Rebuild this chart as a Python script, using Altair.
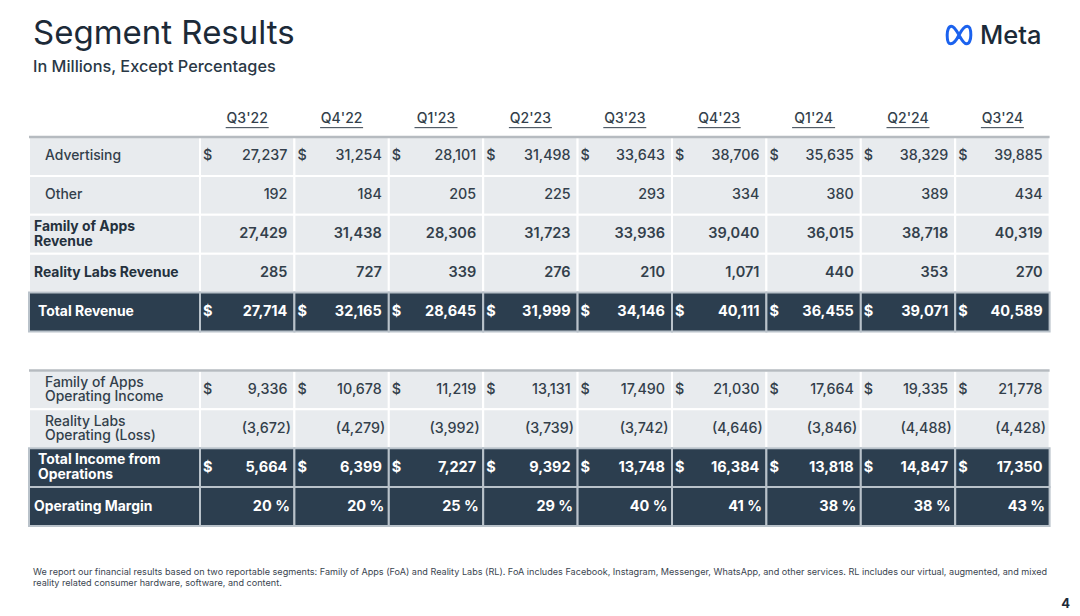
import altair as alt
import pandas as pd

# ---------------- data ----------------
quarters = ["Q3'22", "Q4'22", "Q1'23", "Q2'23", "Q3'23", "Q4'23", "Q1'24", "Q2'24", "Q3'24"]

advertising = [27237, 31254, 28101, 31498, 33643, 38706, 35635, 38329, 39885]
other = [192, 184, 205, 225, 293, 334, 380, 389, 434]
foa_revenue = [27429, 31438, 28306, 31723, 33936, 39040, 36015, 38718, 40319]
rl_revenue = [285, 727, 339, 276, 210, 1071, 440, 353, 270]
total_revenue = [27714, 32165, 28645, 31999, 34146, 40111, 36455, 39071, 40589]
foa_op_income = [9336, 10678, 11219, 13131, 17490, 21030, 17664, 19335, 21778]
rl_op_loss = [-3672, -4279, -3992, -3739, -3742, -4646, -3846, -4488, -4428]
total_income_ops = [5664, 6399, 7227, 9392, 13748, 16384, 13818, 14847, 17350]
operating_margin = [20, 20, 25, 29, 40, 41, 38, 38, 43]

row_labels = [
    "Advertising", "Other", "Family of Apps\nRevenue", "Reality Labs Revenue", "Total Revenue",
    "Family of Apps\nOperating Income", "Reality Labs\nOperating (Loss)",
    "Total Income from\nOperations", "Operating Margin",
]
row_values = [advertising, other, foa_revenue, rl_revenue, total_revenue,
              foa_op_income, rl_op_loss, total_income_ops, operating_margin]
row_style = ["sub", "sub", "bold", "bold", "total", "sub", "sub", "total", "total"]
row_dollar = [True, False, False, False, True, True, False, True, False]
row_kind = ["num"] * 8 + ["pct"]
row_slot = [0, 1, 2, 3, 4, 6, 7, 8, 9]   # grid row (5 = gap between the two tables)

title = "Segment Results"
subtitle = "In Millions, Except Percentages"
footnote = [
    "We report our financial results based on two reportable segments: Family of Apps (FoA) and Reality Labs (RL). "
    "FoA includes Facebook, Instagram, Messenger, WhatsApp, and other services. RL includes our virtual, augmented, and mixed",
    "reality related consumer hardware, software, and content.",
]

# ---------------- layout ----------------
W, H = 1064, 608
XU, YU = 94.4, 38.9          # px per column / per row
X0, Y0 = 21, 129             # view px of table left / table top
LABEL_W = 171 / XU
NCOL = len(quarters)
FONT = "Inter"
DARK = "#2c3e4f"
LIGHT = "#e8ebee"
TXT = "#333f4b"
LINE_H = {"sub": 14.5, "bold": 15, "total": 15}

xs = alt.Scale(domain=[-X0 / XU, (W - X0) / XU], range=[0, W])
ys = alt.Scale(domain=[-Y0 / YU, (H - Y0) / YU], range=[0, H])


def fmt(v, kind):
    if kind == "pct":
        return f"{v} %"
    if v < 0:
        return f"({-v:,})"
    return f"{v:,}"


cells, labels, vals, dollars = [], [], [], []
for lab, values, sty, dol, kind, slot in zip(row_labels, row_values, row_style, row_dollar, row_kind, row_slot):
    dark = sty == "total"
    fill = DARK if dark else LIGHT
    stroke = "#b9c2ca" if dark else "#ffffff"
    cells.append(dict(x=0, x2=LABEL_W, y=slot, y2=slot + 1, fill=fill, stroke=stroke))
    indent = 16 if sty == "sub" else (9 if (dark and lab.startswith("Total")) else 5)
    nlines = lab.count("\n") + 1
    labels.append(dict(x=indent / XU, y=slot + 0.5 - (nlines - 1) * (LINE_H[sty] / 2) / YU,
                       label=lab, style=sty))
    for c, v in enumerate(values):
        left = LABEL_W + c
        cells.append(dict(x=left, x2=left + 1, y=slot, y2=slot + 1, fill=fill, stroke=stroke))
        shift = 7 if (kind == "num" and v >= 0) else (3.5 if kind == "num" else 4.5)
        vals.append(dict(x=left + 1 - shift / XU, y=slot + 0.5, text=fmt(v, kind), style=sty))
        if dol:
            dollars.append(dict(x=left + 3 / XU, y=slot + 0.5, text="$", style=sty))

cells = pd.DataFrame(cells)
labels = pd.DataFrame(labels)
vals = pd.DataFrame(vals)
dollars = pd.DataFrame(dollars)
header = pd.DataFrame(dict(q=quarters, x=[LABEL_W + c + 0.5 for c in range(NCOL)]))
header["xa"] = header["x"] - 21.5 / XU
header["xb"] = header["x"] + 21.5 / XU
tops = pd.DataFrame(dict(y=[0, 6], x=[0, 0], x2=[LABEL_W + NCOL] * 2))

X = lambda f="x": alt.X(f"{f}:Q", scale=xs, axis=None)
Y = lambda f="y": alt.Y(f"{f}:Q", scale=ys, axis=None)

rect = alt.Chart(cells).mark_rect(strokeWidth=2).encode(
    x=X(), x2="x2:Q", y=Y(), y2="y2:Q",
    fill=alt.Fill("fill:N", scale=None), stroke=alt.Stroke("stroke:N", scale=None),
)
toprule = alt.Chart(tops).mark_rule(color="#b6bbc0", strokeWidth=2.5).encode(x=X(), x2="x2:Q", y=Y())

head_txt = alt.Chart(header).mark_text(font=FONT, fontSize=14, fontWeight=500, color=TXT, baseline="middle").encode(
    x=X(), y=alt.Y("yy:Q", scale=ys, axis=None), text="q:N"
).transform_calculate(yy="-0.45")
head_ul = alt.Chart(header).mark_rule(color=TXT, strokeWidth=1).encode(
    x=X("xa"), x2="xb:Q", y=alt.Y("yy:Q", scale=ys, axis=None)
).transform_calculate(yy="-0.24")


def text_layer(df, style, align, weight, color, size=14.5, field="text"):
    return alt.Chart(df).mark_text(
        font=FONT, fontSize=size, fontWeight=weight, color=color, align=align,
        baseline="middle", lineBreak="\n", lineHeight=LINE_H[style],
    ).encode(x=X(), y=Y(), text=f"{field}:N").transform_filter(alt.datum.style == style)


layers = [rect, toprule, head_txt, head_ul,
          text_layer(labels, "sub", "left", 500, TXT, 13.9, "label"),
          text_layer(labels, "bold", "left", 700, "#24313d", 13.9, "label"),
          text_layer(labels, "total", "left", 700, "#ffffff", 13.9, "label"),
          text_layer(vals, "sub", "right", 500, TXT, 14.3),
          text_layer(vals, "bold", "right", 600, TXT),
          text_layer(vals, "total", "right", 700, "#ffffff"),
          text_layer(dollars, "sub", "left", 500, TXT, 14.3),
          text_layer(dollars, "total", "left", 700, "#ffffff")]

# decorations (title, logo, footnote, page number)
deco = pd.DataFrame({"a": [0]})
def deco_text(txt, x, y, size, weight=400, color="#1f2d3b", align="left", font=FONT):
    return alt.Chart(deco).mark_text(
        text=txt, font=font, fontSize=size, fontWeight=weight, color=color, align=align, baseline="alphabetic"
    ).encode(x=alt.value(x), y=alt.value(y))

META_PATH = ("M0,0 C0.25,-0.5 0.45,-0.75 0.7,-0.75 C0.95,-0.75 1,-0.3 1,0 C1,0.45 0.85,0.75 0.65,0.75 "
             "C0.4,0.75 0.2,0.35 0,0 C-0.2,-0.35 -0.4,-0.75 -0.65,-0.75 C-0.85,-0.75 -1,-0.45 -1,0 "
             "C-1,0.3 -0.95,0.75 -0.7,0.75 C-0.45,0.75 -0.25,0.5 0,0 Z")
logo = alt.Chart(deco).mark_point(
    shape=META_PATH, filled=False, stroke="#1b62ee", strokeWidth=3.0, size=560, opacity=1
).encode(x=alt.value(951), y=alt.value(27))

layers += [
    deco_text(title, 25, 36, 33, 400, "#1c2a38"),
    deco_text(subtitle, 25, 64, 16.3, 500, "#2a3846"),
    logo,
    deco_text("Meta", 972, 36, 25.5, 500, "#1c2a38"),
    deco_text(footnote[0], 25, 567, 9.1, 400, "#3a4550"),
    deco_text(footnote[1], 25, 578, 9.1, 400, "#3a4550"),
    deco_text("4", 1062, 600, 13, 700, "#1c2a38", "right"),
]

chart = alt.layer(*layers).properties(
    width=W, height=H, padding=0, autosize=alt.AutoSizeParams(type="none"), background="white"
).configure_view(stroke=None)

chart.save("out.html", embed_options={"renderer": "svg", "actions": False})
